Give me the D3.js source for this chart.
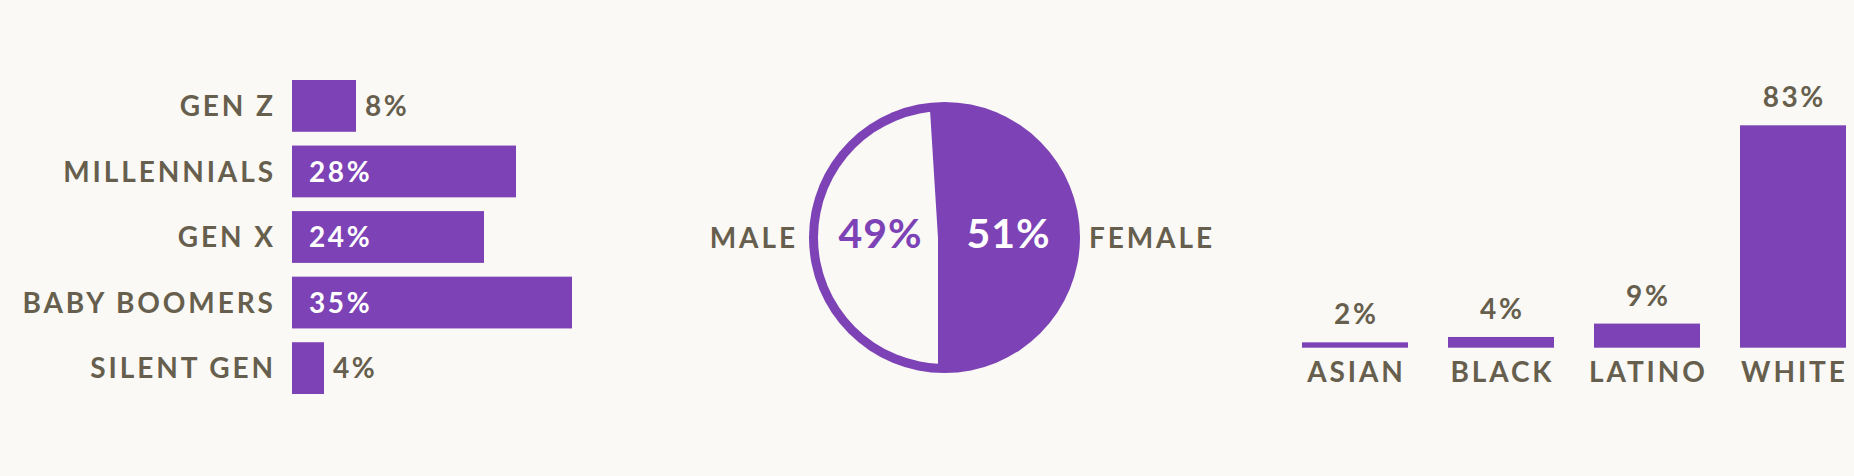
<!DOCTYPE html>
<html>
<head>
<meta charset="utf-8">
<script src="https://cdn.jsdelivr.net/npm/d3@7"></script>
<style>
  html, body { margin: 0; padding: 0; background: #faf9f5; }
  svg { display: block; }
  text { font-family: Lato, "Open Sans", sans-serif; font-weight: 700; }
</style>
</head>
<body>
<div id="chart"></div>
<script>
// data ----------------------------------------------------------------------
var generations = ["GEN Z", "MILLENNIALS", "GEN X", "BABY BOOMERS", "SILENT GEN"];
var generationShare = [8, 28, 24, 35, 4];

var genders = ["FEMALE", "MALE"];
var genderShare = [51, 49];

var races = ["ASIAN", "BLACK", "LATINO", "WHITE"];
var raceShare = [2, 4, 9, 83];

// look ----------------------------------------------------------------------
var width = 1854, height = 476;
var purple = "#7d42b5", ink = "#675f4e", paper = "#faf9f5";
var labelSize = 28, labelSpacing = 2.9;   // category names
var valueSize = 28, valueSpacing = 2.6;   // percentages

var svg = d3.select("#chart").append("svg")
  .attr("width", width)
  .attr("height", height);

svg.append("rect")
  .attr("width", width)
  .attr("height", height)
  .attr("fill", paper);

// generations: horizontal bars ---------------------------------------------
function drawGenerations() {
  var x = d3.scaleLinear()
    .domain([0, d3.max(generationShare)])
    .range([292, 572]);
  var y = d3.scaleBand()
    .domain(generations)
    .range([80, 394])
    .paddingInner(0.21);

  var rows = svg.append("g").selectAll("g")
    .data(generations)
    .enter()
    .append("g")
    .attr("transform", function(d) { return "translate(0," + y(d) + ")"; });

  rows.append("rect")
    .attr("x", x(0))
    .attr("width", function(d, i) { return x(generationShare[i]) - x(0); })
    .attr("height", y.bandwidth())
    .attr("fill", purple);

  // trailing letter-spacing is added after the last glyph, so shift back by it
  rows.append("text")
    .attr("x", x(0) - 19 + labelSpacing)
    .attr("y", y.bandwidth() / 2)
    .attr("dy", "0.36em")
    .attr("text-anchor", "end")
    .attr("font-size", labelSize)
    .attr("letter-spacing", labelSpacing)
    .attr("fill", ink)
    .text(function(d) { return d; });

  rows.append("text")
    .attr("x", function(d, i) {
      var v = generationShare[i];
      return v > 10 ? x(0) + 17 : x(v) + 9;
    })
    .attr("y", y.bandwidth() / 2)
    .attr("dy", "0.36em")
    .attr("font-size", valueSize)
    .attr("letter-spacing", valueSpacing)
    .attr("fill", function(d, i) { return generationShare[i] > 10 ? "#ffffff" : ink; })
    .text(function(d, i) { return generationShare[i] + "%"; });
}

// gender: pie ---------------------------------------------------------------
function drawGender() {
  var cx = 944.5, cy = 237.5, r = 135.5, ring = 9;
  var total = d3.sum(genderShare);
  // female slice ends at six o'clock
  var pie = d3.pie()
    .sort(null)
    .startAngle(Math.PI - 2 * Math.PI * genderShare[0] / total)
    .endAngle(3 * Math.PI - 2 * Math.PI * genderShare[0] / total);
  var slices = pie(genderShare);

  var g = svg.append("g")
    .attr("transform", "translate(" + cx + "," + cy + ")");

  g.append("circle")
    .attr("r", r)
    .attr("fill", purple);

  var wedge = d3.arc().innerRadius(0).outerRadius(r * 1.5);
  svg.append("defs").append("clipPath")
    .attr("id", "maleClip")
    .append("path")
    .attr("transform", "translate(-6.5,0)")
    .attr("d", wedge(slices[1]));

  g.append("circle")
    .attr("r", r - ring)
    .attr("fill", paper)
    .attr("clip-path", "url(#maleClip)");

  var label = d3.arc().innerRadius(0).outerRadius(128);
  g.selectAll(".pct")
    .data(slices)
    .enter()
    .append("text")
    .attr("class", "pct")
    .attr("x", function(d) { return label.centroid(d)[0]; })
    .attr("y", 10.5)
    .attr("text-anchor", "middle")
    .attr("font-size", 41)
    .attr("letter-spacing", 1)
    .attr("fill", function(d, i) { return i === 0 ? "#ffffff" : purple; })
    .text(function(d) { return d.data + "%"; });

  g.selectAll(".name")
    .data(genders)
    .enter()
    .append("text")
    .attr("class", "name")
    .attr("x", function(d, i) { return i === 0 ? r + 9 : -r - 14 + labelSpacing; })
    .attr("y", 0)
    .attr("dy", "0.36em")
    .attr("text-anchor", function(d, i) { return i === 0 ? "start" : "end"; })
    .attr("font-size", labelSize)
    .attr("letter-spacing", labelSpacing)
    .attr("fill", ink)
    .text(function(d) { return d; });
}

// race: vertical bars -------------------------------------------------------
function drawRace() {
  var x = d3.scaleBand()
    .domain(races)
    .range([1302, 1846])
    .paddingInner(0.274);
  var y = d3.scaleLinear()
    .domain([0, d3.max(raceShare)])
    .range([347.7, 125.3]);

  var cols = svg.append("g").selectAll("g")
    .data(races)
    .enter()
    .append("g")
    .attr("transform", function(d) { return "translate(" + x(d) + ",0)"; });

  cols.append("rect")
    .attr("y", function(d, i) { return y(raceShare[i]); })
    .attr("width", x.bandwidth())
    .attr("height", function(d, i) { return y(0) - y(raceShare[i]); })
    .attr("fill", purple);

  cols.append("text")
    .attr("x", x.bandwidth() / 2 + valueSpacing / 2)
    .attr("y", function(d, i) { return y(raceShare[i]) - 18; })
    .attr("text-anchor", "middle")
    .attr("font-size", valueSize)
    .attr("letter-spacing", valueSpacing)
    .attr("fill", ink)
    .text(function(d, i) { return raceShare[i] + "%"; });

  cols.append("text")
    .attr("x", x.bandwidth() / 2 + labelSpacing / 2)
    .attr("y", y(0) + 34)
    .attr("text-anchor", "middle")
    .attr("font-size", labelSize)
    .attr("letter-spacing", labelSpacing)
    .attr("fill", ink)
    .text(function(d) { return d; });
}

drawGenerations();
drawGender();
drawRace();
</script>
</body>
</html>
